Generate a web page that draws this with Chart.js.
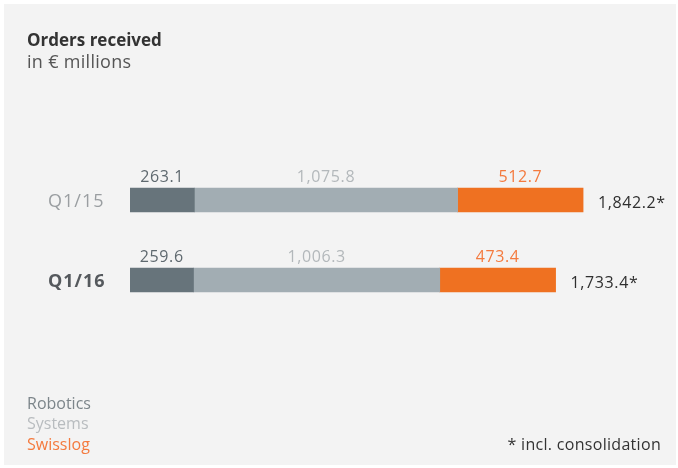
<!DOCTYPE html>
<html>
<head>
<meta charset="utf-8">
<script src="https://cdn.jsdelivr.net/npm/chart.js@4.4.1/dist/chart.umd.min.js"></script>
<style>
  html, body { margin: 0; padding: 0; background: #ffffff; }
  #wrap { width: 678px; height: 468px; position: relative; }
</style>
</head>
<body>
<div id="wrap"><canvas id="ordersChart" width="678" height="468"></canvas></div>
<script>
// Datos del gráfico
const periodos = ['Q1/15', 'Q1/16'];
const robotics = [263.1, 259.6];
const systems = [1075.8, 1006.3];
const swisslog = [512.7, 473.4];
const totales = ['1,842.2*', '1,733.4*'];
const etiquetasRobotics = ['263.1', '259.6'];
const etiquetasSystems = ['1,075.8', '1,006.3'];
const etiquetasSwisslog = ['512.7', '473.4'];
const series = ['Robotics', 'Systems', 'Swisslog'];

const FONT = '"Open Sans", "Noto Sans", sans-serif';
const coloresBarra = ['#67747b', '#a2adb3', '#ef7121'];
const coloresTexto = ['#5f696f', '#b3b8bb', '#f47a3e'];
const coloresLeyenda = ['#7c858a', '#b8bcbf', '#f47a3e'];

// Plugin para fondo, títulos, etiquetas y leyenda
const decoracion = {
    id: 'decoracion',
    beforeDraw(chart) {
        const ctx = chart.ctx;
        ctx.save();
        ctx.fillStyle = '#f3f3f3';
        ctx.fillRect(4, 4, 672, 461);
        ctx.restore();
    },
    afterDatasetsDraw(chart) {
        const ctx = chart.ctx;
        const yScale = chart.scales.y;
        ctx.save();

        // Título
        ctx.textBaseline = 'alphabetic';
        ctx.textAlign = 'left';
        ctx.fillStyle = '#333333';
        ctx.font = 'bold 17px ' + FONT;
        ctx.letterSpacing = '0px';
        ctx.fillText('Orders received', 27, 46);
        ctx.fillStyle = '#555555';
        ctx.font = '18px ' + FONT;
        ctx.letterSpacing = '0.3px';
        ctx.fillText('in € millions', 27, 68);

        // Etiquetas de categoría
        ctx.letterSpacing = '1px';
        periodos.forEach((p, i) => {
            const y = yScale.getPixelForValue(i);
            ctx.textAlign = 'left';
            ctx.textBaseline = 'middle';
            if (i === 1) {
                ctx.font = 'bold 18px ' + FONT;
                ctx.fillStyle = '#55595d';
            } else {
                ctx.font = '18px ' + FONT;
                ctx.fillStyle = '#9a9ea1';
            }
            ctx.fillText(p, 48, y + 2);
        });

        // Valores encima de cada segmento
        ctx.letterSpacing = '0.6px';
        const etiquetas = [etiquetasRobotics, etiquetasSystems, etiquetasSwisslog];
        chart.data.datasets.forEach((ds, d) => {
            const meta = chart.getDatasetMeta(d);
            meta.data.forEach((bar, i) => {
                const props = bar.getProps(['x', 'base', 'y', 'height'], true);
                const cx = (props.x + props.base) / 2;
                ctx.font = '16px ' + FONT;
                ctx.fillStyle = coloresTexto[d];
                ctx.textAlign = 'center';
                ctx.textBaseline = 'alphabetic';
                ctx.fillText(etiquetas[d][i], cx, props.y - props.height / 2 - 6);
            });
        });

        // Totales a la derecha
        const ultimo = chart.getDatasetMeta(2);
        ultimo.data.forEach((bar, i) => {
            ctx.font = '16px ' + FONT;
            ctx.fillStyle = '#2f2f2f';
            ctx.textAlign = 'left';
            ctx.textBaseline = 'middle';
            ctx.fillText(totales[i], bar.x + 15, bar.y + 3);
        });

        // Leyenda
        ctx.letterSpacing = '0px';
        ctx.font = '16px ' + FONT;
        ctx.textAlign = 'left';
        ctx.textBaseline = 'middle';
        series.forEach((s, i) => {
            ctx.fillStyle = coloresLeyenda[i];
            ctx.fillText(s, 27, 404 + i * 20.5);
        });

        // Nota
        ctx.letterSpacing = '0.3px';
        ctx.fillStyle = '#333333';
        ctx.textAlign = 'right';
        ctx.fillText('* incl. consolidation', 661, 445);
        ctx.restore();
    }
};

const ctx = document.getElementById('ordersChart').getContext('2d');
new Chart(ctx, {
    type: 'bar',
    data: {
        labels: periodos,
        datasets: [
            { label: series[0], data: robotics, backgroundColor: coloresBarra[0] },
            { label: series[1], data: systems, backgroundColor: coloresBarra[1] },
            { label: series[2], data: swisslog, backgroundColor: coloresBarra[2] }
        ]
    },
    options: {
        indexAxis: 'y',
        responsive: false,
        animation: false,
        maintainAspectRatio: false,
        datasets: { bar: { barThickness: 24, borderWidth: 0 } },
        layout: { padding: { left: 130, right: 58.6, top: 160, bottom: 148 } },
        plugins: {
            legend: { display: false },
            tooltip: { enabled: false }
        },
        scales: {
            x: { stacked: true, min: 0, max: 2000, display: false },
            y: { stacked: true, display: false }
        }
    },
    plugins: [decoracion]
});
</script>
</body>
</html>
